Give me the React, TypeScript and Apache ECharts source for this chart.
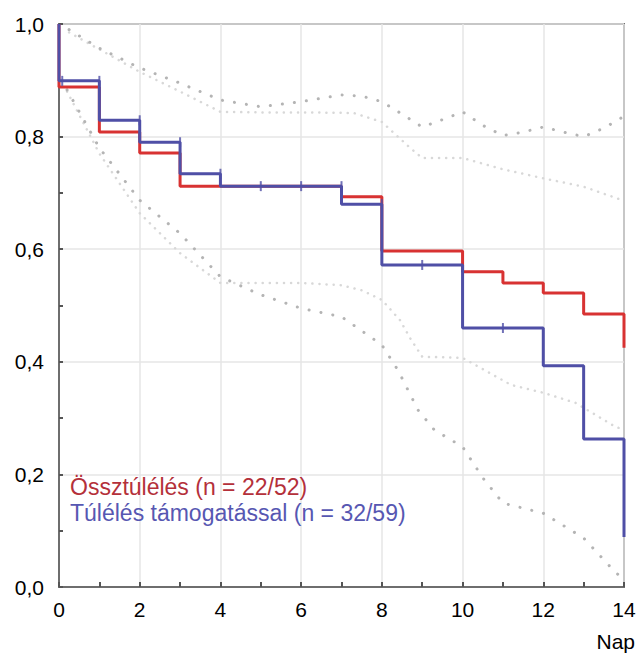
import React, { useEffect, useRef } from "react";
import * as echarts from "echarts";

// Kaplan–Meier steps (time, survival after the drop at that time)
const redTimes = [0, 0, 1, 2, 3, 7, 8, 10, 11, 12, 13, 14];
const redValues = [1.0, 0.888, 0.808, 0.771, 0.712, 0.693, 0.597, 0.56, 0.54, 0.522, 0.485, 0.425];
const blueTimes = [0, 0, 1, 2, 3, 4, 7, 8, 10, 12, 13, 14];
const blueValues = [1.0, 0.899, 0.829, 0.79, 0.734, 0.712, 0.68, 0.572, 0.46, 0.393, 0.263, 0.089];

// censored observations (blue)
const blueCensorTimes = [0.08, 1, 2, 3, 4, 5, 6, 7, 8, 9, 11];
const blueCensorValues = [0.899, 0.899, 0.829, 0.79, 0.734, 0.712, 0.712, 0.712, 0.68, 0.572, 0.46];

// confidence bands (dotted)
const darkUpperX = [0.25, 1, 2, 3, 4, 5, 6, 7, 7.5, 8, 8.5, 9, 9.5, 10, 10.5, 11, 11.5, 12, 12.5, 13, 13.5, 14];
const darkUpperY = [0.99, 0.957, 0.922, 0.895, 0.865, 0.853, 0.862, 0.874, 0.872, 0.862, 0.84, 0.817, 0.83, 0.844, 0.82, 0.802, 0.808, 0.817, 0.808, 0.8, 0.815, 0.836];
const lightUpperX = [0.25, 1, 2, 3, 4, 5, 6, 7.3, 8, 8.7, 9, 10, 11, 12, 13, 14];
const lightUpperY = [0.985, 0.955, 0.915, 0.88, 0.844, 0.843, 0.843, 0.842, 0.826, 0.78, 0.762, 0.762, 0.742, 0.726, 0.711, 0.686];
const darkLowerX = [0.2, 1, 2, 3, 4, 5, 6, 7, 8, 8.4, 8.9, 9.3, 10, 10.5, 11, 12, 13, 13.8, 14];
const darkLowerY = [0.883, 0.78, 0.687, 0.628, 0.551, 0.519, 0.495, 0.48, 0.43, 0.385, 0.314, 0.279, 0.249, 0.194, 0.149, 0.131, 0.087, 0.025, 0.015];
const lightLowerX = [0.2, 1, 2, 3, 4, 5, 6, 7, 7.5, 8, 8.45, 8.7, 9, 10, 10.4, 11.2, 12, 12.8, 13.8, 14];
const lightLowerY = [0.88, 0.77, 0.664, 0.593, 0.54, 0.54, 0.54, 0.536, 0.527, 0.51, 0.474, 0.442, 0.409, 0.407, 0.391, 0.359, 0.345, 0.327, 0.284, 0.28];

const xTicksMax = 14;
const legendRed = "Össztúlélés (n = 22/52)";
const legendBlue = "Túlélés támogatással (n = 32/59)";
const xAxisName = "Nap";

const zip = (xs: number[], ys: number[]) => xs.map((x, i) => [x, ys[i]]);

export default function App() {
  const ref = useRef<HTMLDivElement>(null);
  useEffect(() => {
    document.body.style.margin = "0";
    const chart = echarts.init(ref.current!, undefined, { renderer: "svg" });
    const font = "'Liberation Sans', Arial, sans-serif";
    const dotted = (data: number[][], color: string, width: number, gap: number) => ({
      type: "line",
      data,
      showSymbol: false,
      symbol: "none",
      silent: true,
      z: 1,
      lineStyle: { color, width, type: [0.1, gap], cap: "round" },
    });
    chart.setOption({
      animation: false,
      grid: {
        left: 59,
        right: 15,
        top: 24,
        bottom: 66,
        show: true,
        borderColor: "#6e6e6e",
        borderWidth: 2,
        backgroundColor: "#ffffff",
      },
      xAxis: {
        type: "value",
        min: 0,
        max: xTicksMax,
        interval: 2,
        axisLine: { show: true, lineStyle: { color: "#6e6e6e", width: 2 } },
        axisTick: { show: true, inside: true, length: 5, lineStyle: { color: "#555", width: 2 } },
        minorTick: { show: true, splitNumber: 2, length: 5, lineStyle: { color: "#555", width: 2 } },
        splitLine: { show: true, lineStyle: { color: "#e6e6e6", width: 1.5 } },
        axisLabel: { color: "#000", fontSize: 21, fontFamily: font, margin: 12 },
      },
      yAxis: {
        type: "value",
        min: 0,
        max: 1,
        interval: 0.2,
        axisLine: { show: true, lineStyle: { color: "#6e6e6e", width: 2 } },
        axisTick: { show: true, inside: true, length: 4, lineStyle: { color: "#555", width: 2 } },
        minorTick: { show: true, splitNumber: 2, length: 4, lineStyle: { color: "#555", width: 2 } },
        splitLine: { show: true, lineStyle: { color: "#e6e6e6", width: 1.5 } },
        axisLabel: {
          color: "#000",
          fontSize: 21,
          fontFamily: font,
          margin: 15,
          formatter: (v: number) => v.toFixed(1).replace(".", ","),
        },
      },
      series: [
        dotted(zip(lightUpperX, lightUpperY), "#d8d8d8", 2.5, 7),
        dotted(zip(lightLowerX, lightLowerY), "#d8d8d8", 2.5, 7),
        dotted(zip(darkUpperX, darkUpperY), "#b4b4b4", 3, 12),
        dotted(zip(darkLowerX, darkLowerY), "#b4b4b4", 3, 12),
        {
          type: "line",
          step: "end",
          data: zip(redTimes, redValues),
          symbol: "none",
          z: 3,
          lineStyle: { color: "#d83232", width: 3 },
        },
        {
          type: "line",
          step: "end",
          data: zip(blueTimes, blueValues),
          symbol: "none",
          z: 4,
          lineStyle: { color: "#4f4fa6", width: 3 },
        },
        {
          type: "scatter",
          data: zip(blueCensorTimes, blueCensorValues),
          symbol: "rect",
          symbolSize: [2, 10],
          z: 5,
          itemStyle: { color: "#4f4fa6" },
        },
      ],
      graphic: [
        {
          type: "text",
          left: 70,
          top: 475,
          z: 100,
          style: { text: legendRed, fill: "#b4303a", fontSize: 23, fontFamily: font },
        },
        {
          type: "text",
          left: 70,
          top: 501,
          z: 100,
          style: { text: legendBlue, fill: "#5757b2", fontSize: 23, fontFamily: font },
        },
        {
          type: "text",
          right: 4,
          top: 631,
          z: 100,
          style: { text: xAxisName, fill: "#000", fontSize: 21, fontFamily: font },
        },
      ],
    });
    return () => chart.dispose();
  }, []);
  return <div ref={ref} style={{ width: 639, height: 653 }} />;
}
